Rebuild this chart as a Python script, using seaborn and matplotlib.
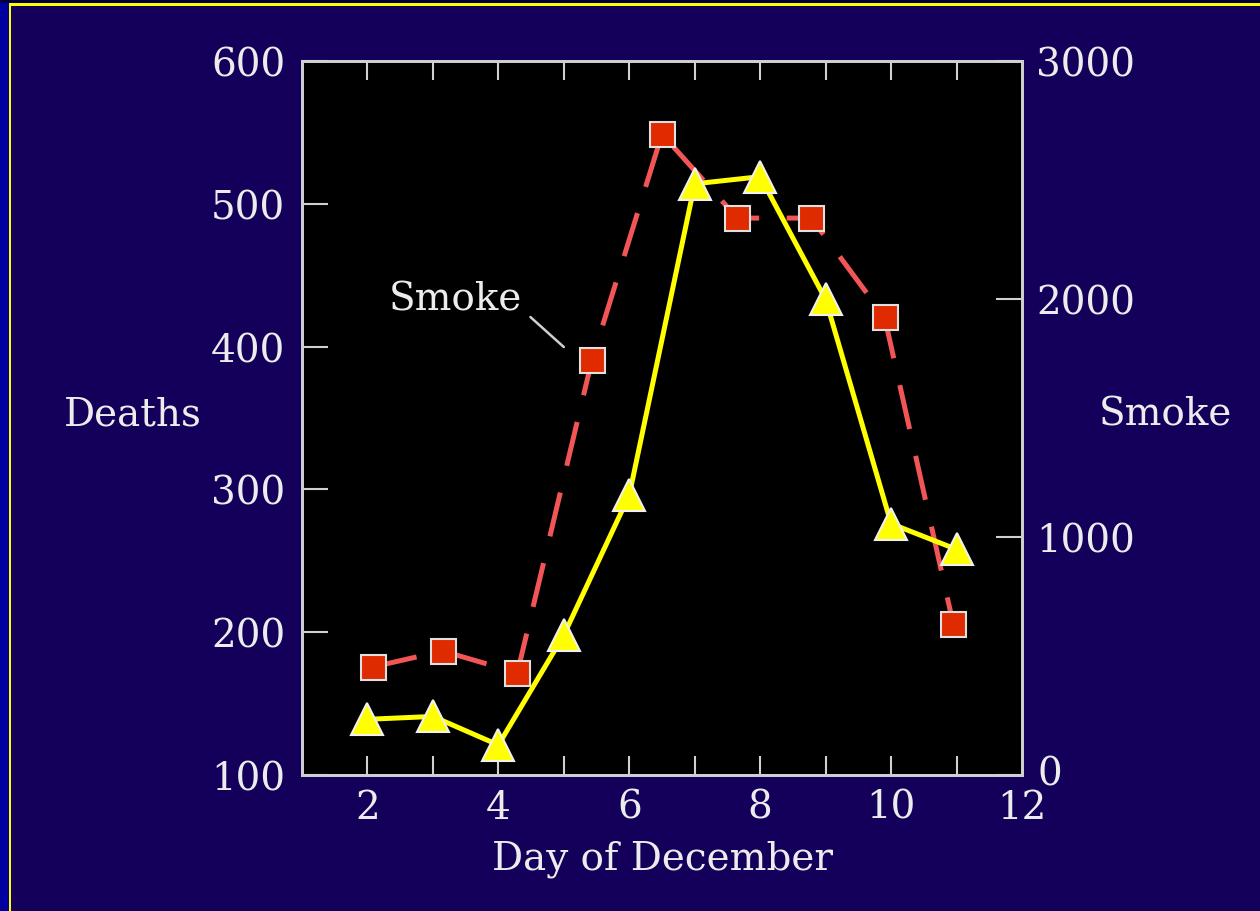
import matplotlib
matplotlib.use("Agg")
import matplotlib.pyplot as plt
import matplotlib.patches as mpatches
import matplotlib.transforms as mtransforms
import seaborn as sns

# data
days = [2, 3, 4, 5, 6, 7, 8, 9, 10, 11]
deaths = [139, 141, 121, 198, 296, 514, 519, 433, 276, 258]

smoke_days = [2.08, 3.15, 4.29, 5.43, 6.5, 7.65, 8.78, 9.9, 10.95]
smoke = [454, 521, 429, 1744, 2693, 2340, 2340, 1924, 634]

left_ticks = [100, 200, 300, 400, 500, 600]
right_ticks = [0, 1000, 2000, 3000]
x_labels = [2, 4, 6, 8, 10, 12]

bg = "#14005a"
fg = "#ececec"
spine_col = "#d0d0d0"

sns.set_style("dark")
plt.rcParams["font.family"] = ["DejaVu Serif"]

fig = plt.figure(figsize=(12.6, 9.12), dpi=100, facecolor=bg)

# frame strips at left and top edges
fig.patches.append(mpatches.Rectangle((0, 0), 9 / 1260, 1, transform=fig.transFigure,
                                      facecolor="#0000a0", edgecolor="none", zorder=0))
fig.patches.append(mpatches.Rectangle((0, 1 - 4 / 912), 1, 4 / 912, transform=fig.transFigure,
                                      facecolor="#000040", edgecolor="none", zorder=0))
fig.patches.append(mpatches.Rectangle((9 / 1260, 0), 2.5 / 1260, 1 - 4 / 912, transform=fig.transFigure,
                                      facecolor="#ffff00", edgecolor="none", zorder=1))
fig.patches.append(mpatches.Rectangle((9 / 1260, 1 - 6.5 / 912), 1, 2.5 / 912, transform=fig.transFigure,
                                      facecolor="#ffff00", edgecolor="none", zorder=1))

ax = fig.add_axes([302 / 1260, 1 - 776 / 912, 720 / 1260, 714 / 912])
ax2 = ax.twinx()
ax.set_zorder(ax2.get_zorder() + 1)
ax.patch.set_visible(False)
ax2.patch.set_visible(True)
ax2.patch.set_facecolor("black")

# smoke, dashed red with squares
sns.lineplot(x=smoke_days, y=smoke, ax=ax2, color="#f25555", linewidth=3.6,
             linestyle=(0, (9, 5.5)), marker="s", markersize=18,
             markerfacecolor="#e02a00", markeredgecolor="#e0e0e0", markeredgewidth=1.5)

# deaths, solid yellow with triangles
sns.lineplot(x=days, y=deaths, ax=ax, color="#ffff00", linewidth=3.6,
             marker="^", markersize=23, markerfacecolor="#ffff00",
             markeredgecolor="#f0f0f0", markeredgewidth=1.5)

ax.set_xlim(1, 12)
ax.set_ylim(100, 600)
ax2.set_ylim(0, 3000)

ax.set_xticks(range(2, 12), minor=True)
ax.set_xticks(x_labels)
ax.set_xticklabels([str(v) for v in x_labels])
ax.set_yticks(left_ticks)
ax2.set_yticks(right_ticks)

ax.tick_params(axis="x", which="both", direction="in", top=True, bottom=True,
               length=14, width=1.5, color=spine_col, labelsize=28, labelcolor=fg, pad=10)
ax.tick_params(axis="y", direction="in", length=19, width=1.5, color=spine_col,
               labelsize=28, labelcolor=fg, pad=12, left=True, right=False)
ax2.tick_params(axis="y", direction="in", length=19, width=1.5, color=spine_col,
                labelsize=28, labelcolor=fg, pad=10)
ax2.tick_params(axis="x", bottom=False, top=False, labelbottom=False)
# the 12 tick sits on the corner in the reference, hide its mark
for t in ax.xaxis.get_major_ticks():
    if t.get_loc() == 12:
        t.tick1line.set_visible(False)
        t.tick2line.set_visible(False)

# lift the right-hand "0" a touch so it clears the "12"
zero_lbl = ax2.get_yticklabels()[0]
zero_lbl.set_transform(zero_lbl.get_transform()
                       + mtransforms.ScaledTranslation(2 / 100, 5 / 100, fig.dpi_scale_trans))

for a in (ax, ax2):
    a.grid(False)
    for s in a.spines.values():
        s.set_visible(True)
        s.set_color(spine_col)
        s.set_linewidth(2)

ax.set_xlabel("Day of December", fontsize=28, color=fg, labelpad=10)
ax.set_ylabel("")
ax2.set_ylabel("")
fig.text(133 / 1260, 1 - 415 / 912, "Deaths", fontsize=28, color=fg, ha="center", va="center")
fig.text(1165 / 1260, 1 - 415 / 912, "Smoke", fontsize=28, color=fg, ha="center", va="center")

# callout for the smoke curve
ax.text(3.35, 433, "Smoke", fontsize=28, color=fg, ha="center", va="center")
ax.annotate("", xy=(5.0, 399.7), xytext=(4.49, 420.7),
            arrowprops=dict(arrowstyle="-", color=spine_col, lw=1.8, shrinkA=0, shrinkB=0))

fig.savefig("out.png", dpi=100, facecolor=bg)
